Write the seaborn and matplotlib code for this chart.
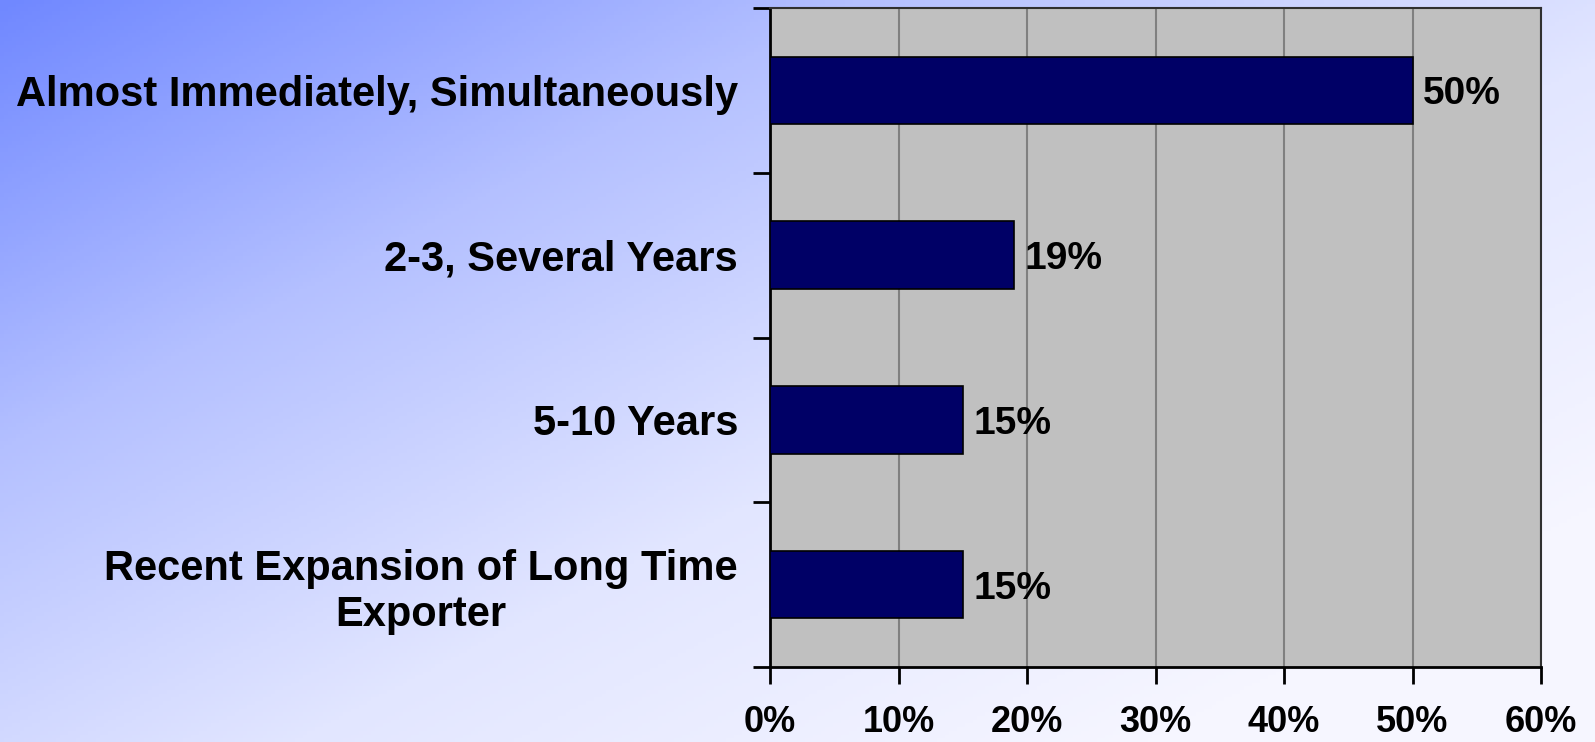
import numpy as np
import pandas as pd
import matplotlib
matplotlib.use("Agg")
import matplotlib.pyplot as plt
from matplotlib.colors import LinearSegmentedColormap
from matplotlib.ticker import FixedLocator, PercentFormatter
import seaborn as sns

# data
categories = ["Almost Immediately, Simultaneously",
              "2-3, Several Years",
              "5-10 Years",
              "Recent Expansion of Long Time\nExporter"]
values = [50, 19, 15, 15]
x_ticks = [0, 10, 20, 30, 40, 50, 60]

df = pd.DataFrame({"category": categories, "pct": values})

sns.set_theme(style="white")
plt.rcParams["font.family"] = ["Liberation Sans", "DejaVu Sans"]
plt.rcParams["font.weight"] = "bold"
plt.rcParams["text.color"] = "black"

fig = plt.figure(figsize=(15.95, 7.42), dpi=100)

# diagonal gradient background
bg = fig.add_axes([0, 0, 1, 1], zorder=-10)
gx, gy = np.meshgrid(np.linspace(0, 1, 400), np.linspace(0, 1, 200))
grad = np.clip(0.62 * gx + 0.55 * gy, 0, 1)
cmap = LinearSegmentedColormap.from_list(
    "bg", ["#7088ff", "#b4c0ff", "#e2e6ff", "#f6f6ff"])
bg.imshow(grad, cmap=cmap, aspect="auto", extent=[0, 1, 0, 1], origin="upper")
bg.axis("off")

ax = fig.add_axes([770 / 1595, 1 - 667 / 742, (1541 - 770) / 1595, (667 - 8) / 742])
ax.set_facecolor("#c0c0c0")

sns.barplot(data=df, x="pct", y="category", orient="h", color="#000066",
            edgecolor="black", linewidth=1.2, width=0.41, saturation=1, ax=ax,
            zorder=3)

ax.set_xlim(0, 60)
ax.set_ylim(3.5, -0.5)
ax.set_xlabel("")
ax.set_ylabel("")

ax.xaxis.set_major_locator(FixedLocator(x_ticks))
ax.xaxis.set_major_formatter(PercentFormatter(decimals=0))
ax.grid(axis="x", color="#808080", linewidth=1.5, zorder=1)
ax.set_axisbelow(True)

ax.tick_params(axis="x", which="major", bottom=True, length=12, width=2,
               color="black", labelcolor="black", direction="out",
               labelsize=26, pad=15)
ax.tick_params(axis="y", which="major", left=False, length=0,
               labelcolor="black", labelsize=30, pad=23)
ax.yaxis.set_minor_locator(FixedLocator([-0.5, 0.5, 1.5, 2.5, 3.5]))
ax.tick_params(axis="y", which="minor", left=True, length=12, width=2,
               color="black", direction="out")
for lab in ax.get_yticklabels():
    lab.set_multialignment("center")
for lab in ax.get_xticklabels() + ax.get_yticklabels():
    lab.set_fontweight("bold")

for s in ["left", "bottom"]:
    ax.spines[s].set_color("black")
    ax.spines[s].set_linewidth(2)
for s in ["top", "right"]:
    ax.spines[s].set_color("#303030")
    ax.spines[s].set_linewidth(1.5)

for i, v in enumerate(values):
    ax.text(v + 0.8, i, f"{v}%", va="center_baseline", ha="left",
            fontsize=28, fontweight="bold", color="black", zorder=5)

fig.savefig("out.png", dpi=100)
